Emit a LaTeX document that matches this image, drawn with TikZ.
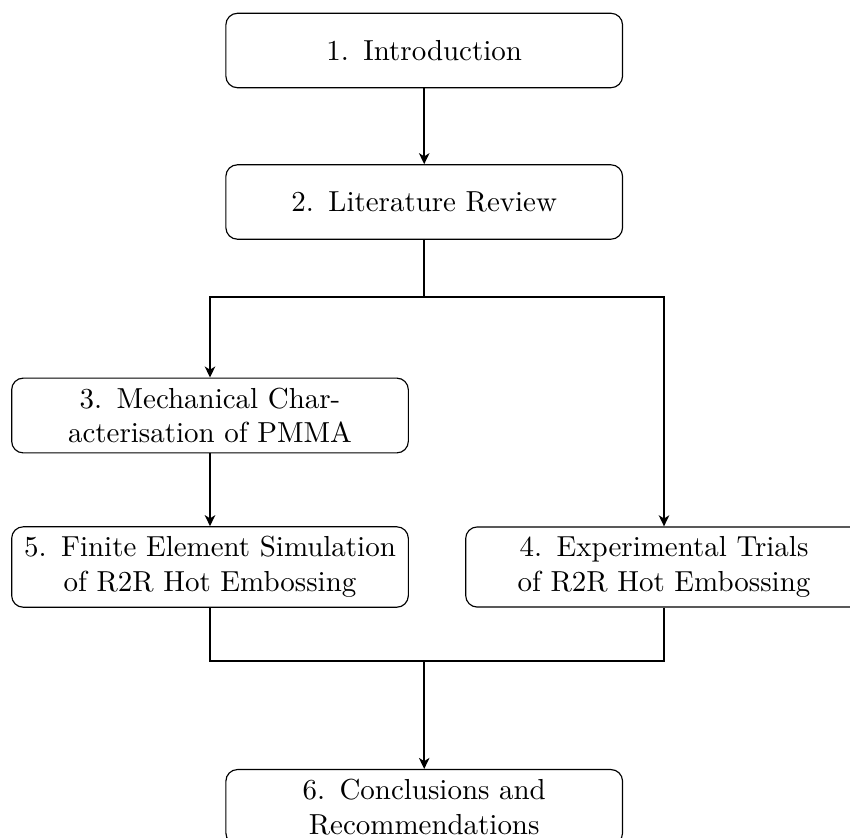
\documentclass[tikz,border=0pt]{standalone}
\usetikzlibrary{arrows.meta}
\begin{document}
\begin{tikzpicture}[x=0.3453pt, y=-0.3453pt,
  box/.style={draw, thin, rounded corners=4pt, text width=130.3pt,
              minimum height=25.7pt, align=center, inner sep=3.333pt},
  link/.style={line width=0.7pt},
  flow/.style={link, -{Stealth[length=3.8pt, width=3.6pt, inset=1.1pt]}}]
\clip (0,0) rectangle (850,837);

% chapter boxes
\node[box] (intro) at (424.2,50.5)  {1. Introduction};
\node[box] (lit)   at (424.2,202)   {2. Literature Review};
\node[box] (mech)  at (210,415.5)   {3. Mechanical Char-\\acterisation of PMMA};
\node[box] (fem)   at (210,567)     {5. Finite Element Simulation\\of R2R Hot Embossing};
\node[box] (exp)   at (664,567)     {4. Experimental Trials\\of R2R Hot Embossing};
\node[box] (concl) at (424.2,807.1) {6. Conclusions and\\Recommendations};

% junction points
\coordinate (split) at (424.2,296.7);
\coordinate (merge) at (424.2,660.7);

% connectors
\draw[flow] (intro) -- (lit);
\draw[flow] (lit.south) -- (split) -| (mech.north);
\draw[flow] (split) -| (exp.north);
\draw[flow] (mech) -- (fem);
\draw[link] (fem.south) |- (merge);
\draw[link] (exp.south) |- (merge);
\draw[flow] (merge) -- (concl.north);
\end{tikzpicture}
\end{document}
